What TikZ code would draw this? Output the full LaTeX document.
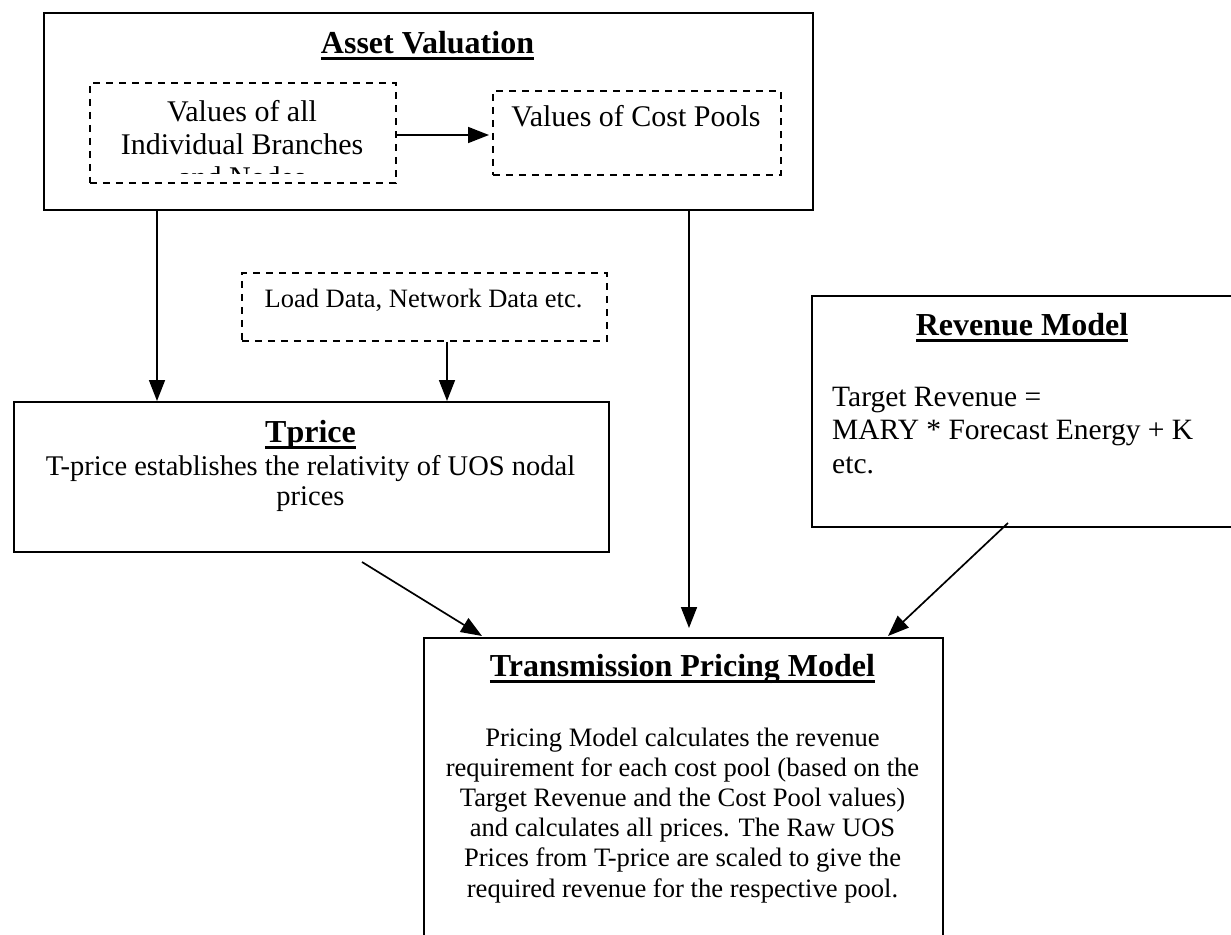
\documentclass[tikz,border=0pt]{standalone}
\usepackage{fontspec}
\setmainfont{Liberation Serif}
\usetikzlibrary{arrows.meta}

% font size / baseline skip
\newcommand{\fsz}[2]{\fontsize{#1}{#2}\selectfont}
% bold heading with a heavy underline
\newcommand{\heading}[1]{\setbox0\hbox{\bfseries #1}\rlap{\rule[-7pt]{\wd0}{2.7pt}}\box0}

\begin{document}
\begin{tikzpicture}[x=1pt,y=-1pt,
  box/.style={draw, line width=1.9pt, rectangle, inner sep=0pt},
  dbox/.style={draw, line width=1.9pt, dash pattern=on 7pt off 6pt, rectangle, inner sep=0pt},
  txt/.style={inner sep=0pt, anchor=base},
  ttl/.style={txt, font=\fsz{32pt}{38pt}},
  arr/.style={line width=1.7pt, -{Triangle[length=21pt,width=16pt]}}
]
\useasboundingbox (0,0) rectangle (1231,934);
\clip (0,0) rectangle (1231,934);
\fill[white] (0,0) rectangle (1231,934);

% ---------- boxes ----------
\node[box,  minimum width=769pt, minimum height=197pt, anchor=north west] (asset)  at (43,12)  {};
\node[dbox, minimum width=306pt, minimum height=100pt, anchor=north west] (vall)   at (89,82)  {};
\node[dbox, minimum width=288pt, minimum height=84pt,  anchor=north west] (vcp)    at (492,90) {};
\node[dbox, minimum width=365pt, minimum height=68pt,  anchor=north west] (load)   at (241,272) {};
\node[box,  minimum width=595pt, minimum height=150pt, anchor=north west] (tprice) at (13,401) {};
\node[box,  minimum width=460pt, minimum height=231pt, anchor=north west] (rev)    at (811,295) {};
\node[box,  minimum width=519pt, minimum height=330pt, anchor=north west] (trans)  at (423,637) {};

% ---------- texts (multi-line nodes sit on their last baseline) ----------
\node[ttl] (asset-t) at (427.5,53) {\heading{Asset Valuation}};
\begin{scope}
  \clip (91,84) rectangle (393,173.5);
  \node[txt, align=center, font=\fsz{30pt}{33pt}] (vall-t) at (242,187)
    {Values of all\\Individual Branches\\and Nodes};
\end{scope}
\node[txt, font=\fsz{30pt}{33pt}] (vcp-t) at (636,126) {Values of Cost Pools};
\node[txt, font=\fsz{26.5pt}{30pt}] (load-t) at (423.5,307) {Load Data, Network Data etc.};

\node[ttl] (tprice-t) at (310.5,442) {\heading{Tprice}};
\node[txt, align=center, font=\fsz{28.5pt}{30pt}] (tprice-b) at (310.5,505)
  {T-price establishes the relativity of UOS nodal\\prices};

\node[ttl] (rev-t) at (1022,335) {\heading{Revenue Model}};
\node[txt, anchor=base west, align=left, font=\fsz{29.5pt}{33.5pt}] (rev-b) at (832,473)
  {Target Revenue =\\MARY * Forecast Energy + K\\etc.};

\node[ttl] (trans-t) at (682.5,676) {\heading{Transmission Pricing Model}};
\node[txt, align=center, font=\fsz{26.6pt}{30.2pt}] (trans-b) at (682.5,897)
  {Pricing Model calculates the revenue\\requirement for each cost pool (based on the\\Target Revenue and the Cost Pool values)\\and calculates all prices. The Raw UOS\\Prices from T-price are scaled to give the\\required revenue for the respective pool.};

% ---------- connectors ----------
\coordinate (tp-out) at (362,562);
\coordinate (tm-in1) at (482,636);
\coordinate (rv-out) at (1008,523);
\coordinate (tm-in3) at (888,636);

\draw[arr] (vall.east |- 0,135) -- ([xshift=-3pt]vcp.west |- 0,135);
\draw[arr] (157,0 |- asset.south) -- (157,0 |- tprice.north);
\draw[arr] (447,0 |- load.south) -- (447,0 |- tprice.north);
\draw[arr] (689,0 |- asset.south) -- ([yshift=9pt]689,0 |- trans.north);
\draw[arr] (tp-out) -- (tm-in1);
\draw[arr] (rv-out) -- (tm-in3);
\end{tikzpicture}
\end{document}
